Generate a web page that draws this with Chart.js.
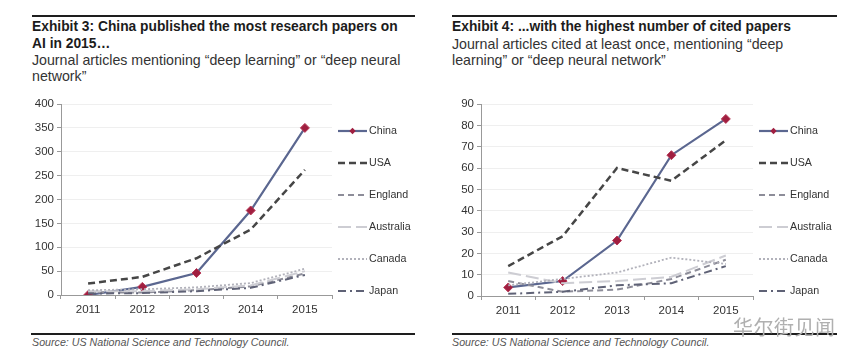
<!DOCTYPE html>
<html><head><meta charset="utf-8">
<script src="https://cdn.jsdelivr.net/npm/chart.js@4.4.1/dist/chart.umd.min.js"></script>
<style>
html,body{margin:0;padding:0;}
body{width:863px;height:363px;background:#fff;position:relative;overflow:hidden;font-family:"Liberation Sans",Arial,sans-serif;}
.rule{position:absolute;height:2px;background:#1e1e1e;}
.title{position:absolute;font-weight:bold;font-size:13.8px;line-height:17px;color:#1c1c1c;white-space:nowrap;}
.sub{position:absolute;font-size:14.2px;line-height:16px;color:#333;white-space:nowrap;}
.src{position:absolute;font-style:italic;font-size:10.7px;line-height:13px;color:#555;white-space:nowrap;}
.box{position:absolute;}
.wm{position:absolute;font-family:"Noto Sans CJK SC",sans-serif;font-size:20px;line-height:22px;color:#b0b0b0;letter-spacing:0.5px;}
</style></head>
<body>
<div class="rule" style="left:32px;top:15px;width:383px"></div>
<div class="title" style="left:32px;top:18px">Exhibit 3: China published the most research papers on<br>AI in 2015…</div>
<div class="sub" style="left:32px;top:52px">Journal articles mentioning “deep learning” or “deep neural<br>network”</div>

<div class="rule" style="left:452px;top:15px;width:385px"></div>
<div class="title" style="left:452px;top:18px">Exhibit 4: ...with the highest number of cited papers</div>
<div class="sub" style="left:452px;top:36px">Journal articles cited at least once, mentioning “deep<br>learning” or “deep neural network”</div>

<div class="box" style="left:20px;top:94px;width:410px;height:230px"><canvas id="c1"></canvas></div>
<div class="box" style="left:440px;top:94px;width:410px;height:230px"><canvas id="c2"></canvas></div>

<div class="rule" style="left:31px;top:333px;width:384px"></div>
<div class="rule" style="left:452px;top:333px;width:385px"></div>
<div class="src" style="left:32px;top:336px">Source: US National Science and Technology Council.</div>
<div class="src" style="left:452px;top:336px">Source: US National Science and Technology Council.</div>
<div class="wm" style="left:733px;top:316px">华尔街见闻</div>

<script>
const years = ['2011', '2012', '2013', '2014', '2015'];
const seriesNames = ['China', 'USA', 'England', 'Australia', 'Canada', 'Japan'];

// Exhibit 3: papers published
const papersChina     = [0, 17, 46, 177, 350];
const papersUSA       = [24, 38, 77, 137, 262];
const papersEngland   = [6, 5, 10, 18, 45];
const papersAustralia = [8, 8, 12, 20, 50];
const papersCanada    = [10, 12, 16, 25, 55];
const papersJapan     = [3, 4, 8, 15, 42];

// Exhibit 4: cited papers
const citedChina     = [4, 7, 26, 66, 83];
const citedUSA       = [14, 28, 60, 54, 73];
const citedEngland   = [7, 2, 3, 8, 17];
const citedAustralia = [11, 6, 7, 9, 19];
const citedCanada    = [5, 8, 11, 18, 15];
const citedJapan     = [1, 2, 5, 6, 14];

const styles = [
  {color:'#5b6790', dash:[], width:2.2},
  {color:'#464646', dash:[7,4], width:2.5},
  {color:'#8d8d99', dash:[6,4], width:2},
  {color:'#cdcdd3', dash:[13,5], width:2},
  {color:'#b2b2bb', dash:[2,2], width:1.8},
  {color:'#5f6276', dash:[8,4,2,4], width:2}
];

function makeDatasets(arrs){
  return arrs.map((d,i)=>({
    label: seriesNames[i],
    data: d,
    borderColor: styles[i].color,
    backgroundColor: styles[i].color,
    borderDash: styles[i].dash,
    borderWidth: styles[i].width,
    pointRadius: i===0 ? 4.5 : 0,
    pointStyle: 'rectRot',
    pointBackgroundColor: '#a01f40',
    pointBorderColor: '#b83a58',
    pointBorderWidth: 1,
    tension: 0,
    fill: false,
    order: 6 - i
  }));
}

const legendPlugin = {
  id: 'sideLegend',
  afterDraw(chart){
    const ctx = chart.ctx, a = chart.chartArea;
    ctx.save();
    chart.data.datasets.forEach((ds,i)=>{
      const y = a.top + 27 + 32*i;
      const x0 = a.right + 6, x1 = a.right + 35;
      ctx.beginPath();
      ctx.setLineDash(ds.borderDash);
      ctx.strokeStyle = ds.borderColor;
      ctx.lineWidth = ds.borderWidth;
      ctx.moveTo(x0, y); ctx.lineTo(x1, y); ctx.stroke();
      ctx.setLineDash([]);
      if (ds.pointRadius > 0){
        const cx = (x0+x1)/2, r = 3.2;
        ctx.beginPath();
        ctx.moveTo(cx, y-r); ctx.lineTo(cx+r, y); ctx.lineTo(cx, y+r); ctx.lineTo(cx-r, y); ctx.closePath();
        ctx.fillStyle = ds.pointBackgroundColor; ctx.fill();
      }
      ctx.fillStyle = '#333';
      ctx.font = '10.7px "Liberation Sans", Arial, sans-serif';
      ctx.textBaseline = 'middle';
      ctx.textAlign = 'left';
      ctx.fillText(ds.label, a.right + 37, y);
    });
    ctx.restore();
  }
};

function makeChart(id, arrs, maxV, step, padRight, xH){
  return new Chart(document.getElementById(id), {
    type: 'line',
    data: { labels: years, datasets: makeDatasets(arrs) },
    options: {
      responsive: true, maintainAspectRatio: false, animation: false,
      layout: { padding: { top: 10, right: padRight, left: 0, bottom: 0 } },
      plugins: { legend: { display: false }, tooltip: { enabled: false } },
      scales: {
        x: {
          offset: true,
          grid: { display: true, drawOnChartArea: false, offset: true, tickLength: 4, tickColor: '#999', color: '#999' },
          border: { display: true, color: '#999', width: 1 },
          ticks: { color: '#333', font: { family: '"Liberation Sans", Arial, sans-serif', size: 11.5 }, padding: 4, maxRotation: 0 },
          afterFit(s){ s.height = xH; }
        },
        y: {
          min: 0, max: maxV,
          grid: { color: '#efefef', tickColor: '#999', tickLength: 4, lineWidth: 1 },
          border: { display: true, color: '#999', width: 1 },
          ticks: { stepSize: step, color: '#333', font: { family: '"Liberation Sans", Arial, sans-serif', size: 11.5 }, padding: 3 },
          afterFit(s){ s.width = 41; }
        }
      }
    },
    plugins: [legendPlugin]
  });
}

makeChart('c1', [papersChina, papersUSA, papersEngland, papersAustralia, papersCanada, papersJapan], 400, 50, 98, 29);
makeChart('c2', [citedChina, citedUSA, citedEngland, citedAustralia, citedCanada, citedJapan], 90, 10, 97, 28);
</script>
</body></html>
